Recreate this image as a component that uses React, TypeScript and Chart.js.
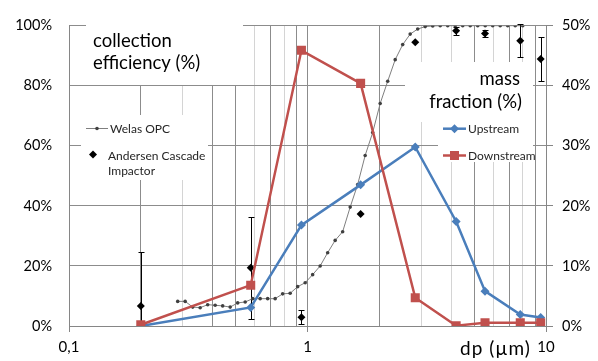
import React, { useEffect, useRef } from 'react';
import { Chart, registerables } from 'chart.js';

Chart.register(...registerables);

// ---- data ----
const stageSizes = [0.2, 0.578, 0.943, 1.67, 2.83, 4.2, 5.55, 7.8, 9.5];
const upstream = [0, 3.1, 16.8, 23.5, 29.8, 17.4, 5.8, 1.9, 1.4];
const downstream = [0.2, 6.8, 45.9, 40.4, 4.7, 0.05, 0.55, 0.55, 0.55];
const andersen = [6.7, 19.4, 2.9, 37.3, 94.5, 98.3, 97.4, 95.0, 88.9];
const andersenErr = [17.9, 17.0, 2.3, 0, 0, 1.3, 1.2, 5.4, 7.3];

const welasSizes = [
  0.2856, 0.307, 0.3301, 0.3548, 0.3815, 0.4101, 0.4409, 0.474, 0.5096, 0.5479,
  0.589, 0.6332, 0.6807, 0.7318, 0.7868, 0.8459, 0.9094, 0.9779, 1.051, 1.13,
  1.215, 1.306, 1.404, 1.51, 1.623, 1.745, 1.876, 2.017, 2.169, 2.332,
  2.507, 2.695, 2.898, 3.115, 3.35, 3.601, 3.872, 4.163, 4.475, 4.811,
  5.173, 5.561, 5.979, 6.427, 6.91, 7.429, 7.987,
];
const welasEff = [
  8.2, 8.2, 6.3, 6.1, 7.1, 6.9, 6.7, 6.3, 7.7, 8.0,
  9.1, 9.1, 9.1, 9.1, 10.7, 10.9, 13.1, 14.4, 17.1, 20.0,
  24.4, 28.5, 31.4, 39.6, 47.1, 56.8, 64.4, 74.1, 81.5, 88.7,
  93.7, 97.2, 98.9, 99.7, 99.9, 100, 100, 100, 100, 100,
  100, 100, 100, 100, 100, 100, 100,
];

const xTickValues = [0.1, 0.2, 0.3, 0.4, 0.5, 0.6, 0.7, 0.8, 0.9, 1, 2, 3, 4, 5, 6, 7, 8, 9, 10];
const xTickLabels: Record<string, string> = { '0.1': '0,1', '1': '1', '10': '10' };
const lightGridValues = [0.3, 0.6, 0.8, 3, 4, 6, 8];

const FONT = 'Lato';
const BLUE = '#4a7ebb';
const RED = '#c0504d';
const GRID_DARK = '#8c8c8c';
const GRID_LIGHT = '#d4d4d4';
const AXIS = '#868686';

// white label boxes [x, y, w, h]
const whiteBoxes: [number, number, number, number][] = [
  [86, 20, 157, 65],
  [81, 115, 127, 65],
  [405, 62, 128, 60],
  [438, 122, 95, 40],
];

function diamond(ctx: CanvasRenderingContext2D, x: number, y: number, r: number) {
  ctx.beginPath();
  ctx.moveTo(x, y - r);
  ctx.lineTo(x + r, y);
  ctx.lineTo(x, y + r);
  ctx.lineTo(x - r, y);
  ctx.closePath();
  ctx.fill();
}

const overlayPlugin = {
  id: 'overlay',
  beforeDatasetsDraw(chart: any) {
    const ctx: CanvasRenderingContext2D = chart.ctx;
    ctx.save();
    ctx.fillStyle = '#ffffff';
    for (const [x, y, w, h] of whiteBoxes) ctx.fillRect(x, y, w, h);
    // error bars
    const ca = chart.chartArea;
    ctx.beginPath();
    ctx.rect(ca.left, ca.top - 2, ca.right - ca.left, ca.bottom - ca.top + 2);
    ctx.clip();
    const xs = chart.scales.x;
    const ys = chart.scales.y;
    ctx.strokeStyle = '#000';
    ctx.lineWidth = 1;
    stageSizes.forEach((s, i) => {
      const e = andersenErr[i];
      if (!e) return;
      const px = Math.round(xs.getPixelForValue(s)) + 0.5;
      const top = Math.round(ys.getPixelForValue(andersen[i] + e)) + 0.5;
      const bot = Math.round(ys.getPixelForValue(andersen[i] - e)) + 0.5;
      ctx.beginPath();
      ctx.moveTo(px, top);
      ctx.lineTo(px, bot);
      ctx.moveTo(px - 3, top);
      ctx.lineTo(px + 3, top);
      ctx.moveTo(px - 3, bot);
      ctx.lineTo(px + 3, bot);
      ctx.stroke();
    });
    ctx.restore();
  },
  afterDatasetsDraw(chart: any) {
    const ctx: CanvasRenderingContext2D = chart.ctx;
    ctx.save();
    ctx.textBaseline = 'alphabetic';
    // big titles
    ctx.fillStyle = '#000';
    ctx.font = `18.5px ${FONT}`;
    ctx.textAlign = 'left';
    ctx.fillText('collection', 93, 47);
    ctx.fillText('efficiency (%)', 93, 69);
    ctx.textAlign = 'right';
    ctx.fillText('mass', 520, 85);
    ctx.fillText('fraction (%)', 522, 108);

    // axis title
    ctx.textAlign = 'left';
    ctx.font = `19px ${FONT}`;
    (ctx as any).letterSpacing = '1px';
    ctx.fillText('dp (\u00b5m)', 460, 355);
    (ctx as any).letterSpacing = '0px';

    // left legend
    ctx.font = `12px ${FONT}`;
    ctx.strokeStyle = '#7f7f7f';
    ctx.lineWidth = 1;
    ctx.beginPath();
    ctx.moveTo(86, 128.5);
    ctx.lineTo(108, 128.5);
    ctx.stroke();
    ctx.fillStyle = '#404040';
    ctx.beginPath();
    ctx.arc(97, 128.5, 1.8, 0, Math.PI * 2);
    ctx.fill();
    ctx.fillStyle = '#262626';
    ctx.fillText('Welas OPC', 110, 132.7);
    ctx.fillStyle = '#000';
    diamond(ctx, 93, 154.5, 4);
    ctx.fillStyle = '#262626';
    ctx.fillText('Andersen Cascade', 108, 159.5);
    ctx.fillText('Impactor', 108, 174.5);

    // right legend
    ctx.lineWidth = 2.5;
    ctx.strokeStyle = BLUE;
    ctx.beginPath();
    ctx.moveTo(443, 128.7);
    ctx.lineTo(466, 128.7);
    ctx.stroke();
    ctx.fillStyle = BLUE;
    diamond(ctx, 454.5, 128.7, 4.5);
    ctx.strokeStyle = RED;
    ctx.beginPath();
    ctx.moveTo(443, 155.5);
    ctx.lineTo(466, 155.5);
    ctx.stroke();
    ctx.fillStyle = RED;
    ctx.fillRect(450, 151, 9, 9);
    ctx.fillStyle = '#262626';
    ctx.fillText('Upstream', 468, 132.7);
    ctx.fillText('Downstream', 468, 160.3);
    ctx.restore();
  },
};

export default function App() {
  const ref = useRef<HTMLCanvasElement | null>(null);
  useEffect(() => {
    if (!ref.current) return;
    const chart = new Chart(ref.current, {
      type: 'line',
      data: {
        datasets: [
          {
            label: 'Downstream',
            data: stageSizes.map((x, i) => ({ x, y: downstream[i] })),
            yAxisID: 'y2',
            borderColor: RED,
            backgroundColor: RED,
            borderWidth: 2.5,
            pointStyle: 'rect',
            pointRadius: 6.4,
            pointBorderWidth: 0,
          },
          {
            label: 'Upstream',
            data: stageSizes.map((x, i) => ({ x, y: upstream[i] })),
            yAxisID: 'y2',
            borderColor: BLUE,
            backgroundColor: BLUE,
            borderWidth: 2.5,
            pointStyle: 'rectRot',
            pointRadius: 4.5,
            pointBorderWidth: 0,
          },
          {
            label: 'Andersen Cascade Impactor',
            data: stageSizes.map((x, i) => ({ x, y: andersen[i] })),
            yAxisID: 'y',
            showLine: false,
            borderColor: '#000',
            backgroundColor: '#000',
            pointStyle: 'rectRot',
            pointRadius: 4,
            pointBorderWidth: 0,
          },
          {
            label: 'Welas OPC',
            data: welasSizes.map((x, i) => ({ x, y: welasEff[i] })),
            yAxisID: 'y',
            borderColor: '#7f7f7f',
            backgroundColor: '#404040',
            borderWidth: 1,
            pointStyle: 'circle',
            pointRadius: 1.8,
            pointBorderWidth: 0,
          },
        ],
      },
      options: {
        responsive: false,
        animation: false,
        layout: { padding: { top: 18, left: 0, right: 0, bottom: 0 } },
        plugins: { legend: { display: false }, tooltip: { enabled: false } },
        scales: {
          x: {
            type: 'logarithmic',
            min: 0.1,
            max: 10,
            afterBuildTicks: (scale: any) => {
              scale.ticks = xTickValues.map((v) => ({ value: v, major: !!xTickLabels[String(v)] }));
            },
            afterFit: (scale: any) => {
              scale.height = 35;
            },
            ticks: {
              autoSkip: false,
              maxRotation: 0,
              padding: 6,
              color: '#000',
              font: { family: FONT, size: 15 },
              callback: (v: any) => xTickLabels[String(v)] ?? '',
            },
            grid: {
              color: (c: any) =>
                lightGridValues.includes(c.tick?.value) ? GRID_LIGHT : GRID_DARK,
              tickColor: (c: any) => (xTickLabels[String(c.tick?.value)] ? AXIS : 'rgba(0,0,0,0)'),
              tickLength: 6,
              lineWidth: 1,
            },
            border: { color: AXIS, width: 1 },
          },
          y: {
            type: 'linear',
            position: 'left',
            min: 0,
            max: 100,
            afterFit: (scale: any) => {
              scale.width = 69;
            },
            ticks: {
              stepSize: 20,
              padding: 17,
              color: '#000',
              font: { family: FONT, size: 14.5 },
              callback: (v: any) => `${v}%`,
            },
            grid: { color: GRID_DARK, drawTicks: false, lineWidth: 1 },
            border: { color: AXIS, width: 1 },
          },
          y2: {
            type: 'linear',
            position: 'right',
            min: 0,
            max: 50,
            afterFit: (scale: any) => {
              scale.width = 52;
            },
            ticks: {
              stepSize: 10,
              padding: 9,
              color: '#000',
              font: { family: FONT, size: 14.5 },
              callback: (v: any) => `${v}%`,
            },
            grid: { drawOnChartArea: false, drawTicks: true, tickLength: 7, tickColor: AXIS },
            border: { color: AXIS, width: 1 },
          },
        },
      },
      plugins: [overlayPlugin],
    } as any);
    return () => chart.destroy();
  }, []);
  return (
    <div style={{ position: 'absolute', left: 0, top: 0, width: 598, height: 361, background: '#fff' }}>
      <canvas ref={ref} width={598} height={361} style={{ display: 'block' }} />
    </div>
  );
}
